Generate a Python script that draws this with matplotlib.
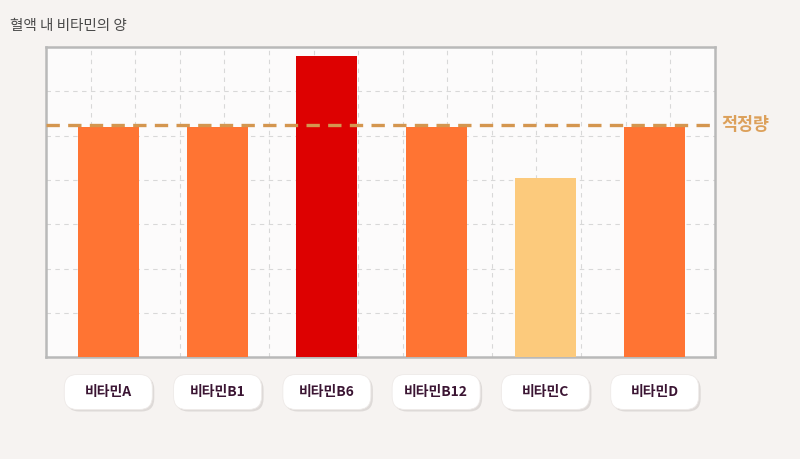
import matplotlib.pyplot as plt
import matplotlib.transforms as mtransforms
from matplotlib.patches import FancyBboxPatch
import numpy as np

plt.rcParams['font.family'] = ['Noto Sans CJK KR', 'DejaVu Sans']

# 데이터
vitamins = ['비타민A', '비타민B1', '비타민B6', '비타민B12', '비타민C', '비타민D']
levels = [52, 52, 68, 52, 40.5, 52]
colors = ['#ff7433', '#ff7433', '#dd0101', '#ff7433', '#fcca7c', '#ff7433']
proper_level = 52.3

fig = plt.figure(figsize=(8, 4.59), dpi=100)
fig.patch.set_facecolor('#f6f3f1')
ax = fig.add_axes([0.0575, 0.222, 0.836, 0.6754])
ax.set_facecolor('#fcfbfb')

x = np.arange(len(vitamins))
ax.bar(x, levels, width=0.56, color=colors, zorder=3)

ax.set_xlim(-0.57, 5.55)
ax.set_ylim(0, 70)

# 점선 그리드
ax.set_xticks(np.linspace(-0.57, 5.55, 16)[1:-1])
ax.set_yticks(np.arange(10, 70, 10))
ax.grid(True, color='#d8d8d8', linestyle=(0, (4, 4)), linewidth=0.8, zorder=0)
ax.tick_params(length=0, labelbottom=False, labelleft=False)
for s in ax.spines.values():
    s.set_color('#b9b9b9')
    s.set_linewidth(1.8)

# 적정량 기준선
ax.axhline(proper_level, color='#d4964f', linestyle=(0, (4, 2.5)), linewidth=2.4,
           zorder=4)
ax.text(1.01, proper_level, '적정량', transform=ax.get_yaxis_transform(),
        color='#dca05a', fontsize=12.5, fontweight='bold', va='center', ha='left')

# 라벨 박스 (픽셀 단위)
w, h, r = 88, 35, 13
ycen = 459 - 392
for xi, name in zip(x, vitamins):
    xc = ax.transData.transform((xi, 0))[0]
    shadow = FancyBboxPatch((xc - w / 2 + 2, ycen - h / 2 - 2), w, h,
                            boxstyle=f'round,pad=0,rounding_size={r}',
                            transform=mtransforms.IdentityTransform(),
                            facecolor='#dedad8', edgecolor='none', zorder=1)
    box = FancyBboxPatch((xc - w / 2, ycen - h / 2), w, h,
                         boxstyle=f'round,pad=0,rounding_size={r}',
                         transform=mtransforms.IdentityTransform(),
                         facecolor='#ffffff', edgecolor='#eeeae8',
                         linewidth=0.6, zorder=2)
    fig.patches.extend([shadow, box])
    fig.text(xc / 800, ycen / 459, name, ha='center', va='center',
             fontsize=10, fontweight='heavy', color='#3b1533', zorder=3)

fig.text(10 / 800, 1 - 26 / 459, '혈액 내 비타민의 양', fontsize=10.5,
         color='#4a4a4a', va='center', ha='left')

plt.savefig('out.png', dpi=100, facecolor=fig.get_facecolor())
plt.close(fig)
